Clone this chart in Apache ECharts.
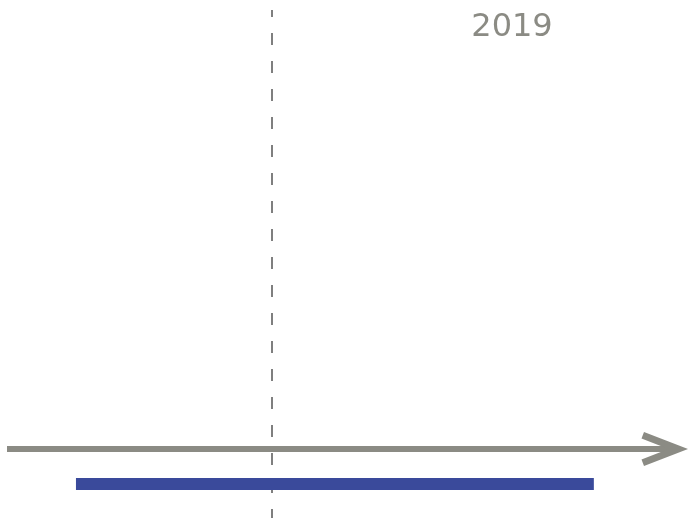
<!DOCTYPE html>
<html>
<head>
<meta charset="utf-8">
<script src="https://cdn.jsdelivr.net/npm/echarts@6/dist/echarts.min.js"></script>
<style>
html,body{margin:0;padding:0;background:#fff;}
#chart{width:688px;height:518px;}
</style>
</head>
<body>
<div id="chart"></div>
<script>
// Timeline data (x in months from start of 2019)
const periodLabels = ['2019'];
const periodStart = [0];
const periodEnd = [12];
const periodLane = [-0.507];
const markerPositions = [4.54];
const axisRange = [-1.598, 13.95];
const laneRange = [-1, 6.363];

const gray = '#8b8b84';
const blue = '#3a4a9b';

const chart = echarts.init(document.getElementById('chart'), null, {renderer: 'canvas'});

const barSeries = periodLabels.map((name, i) => ({
  type: 'line',
  name: name,
  silent: true,
  symbol: 'none',
  showSymbol: false,
  lineStyle: {color: blue, width: 12, cap: 'butt'},
  data: [[periodStart[i], periodLane[i]], [periodEnd[i], periodLane[i]]],
  markLine: i === 0 ? {
    silent: true,
    symbol: ['none', 'none'],
    label: {show: false},
    lineStyle: {color: '#555555', width: 1.5, type: [12, 16], dashOffset: 3},
    data: markerPositions.map(v => ({xAxis: v})),
    z: 1
  } : undefined,
  z: 3
}));

chart.setOption({
  animation: false,
  backgroundColor: '#ffffff',
  title: {
    text: periodLabels[0],
    left: 512,
    top: 12,
    padding: 0,
    textAlign: 'center',
    textStyle: {color: gray, fontSize: 32, fontWeight: 'normal', fontFamily: 'DejaVu Sans'}
  },
  grid: {left: 7, right: 10, top: 10, bottom: 0, containLabel: false},
  xAxis: {
    type: 'value',
    min: axisRange[0],
    max: axisRange[1],
    axisLine: {
      show: true,
      onZero: true,
      lineStyle: {color: gray, width: 6, cap: 'butt'},
      symbol: ['none', 'path://M17,0 L34,44 L27.5,46.5 L17,19.5 L6.5,46.5 L0,44 Z'],
      symbolSize: [34, 46.5],
      symbolOffset: [0, -13.25]
    },
    axisTick: {show: false},
    axisLabel: {show: false},
    splitLine: {show: false}
  },
  yAxis: {
    type: 'value',
    min: laneRange[0],
    max: laneRange[1],
    show: false,
    splitLine: {show: false}
  },
  series: barSeries
});
</script>
</body>
</html>
